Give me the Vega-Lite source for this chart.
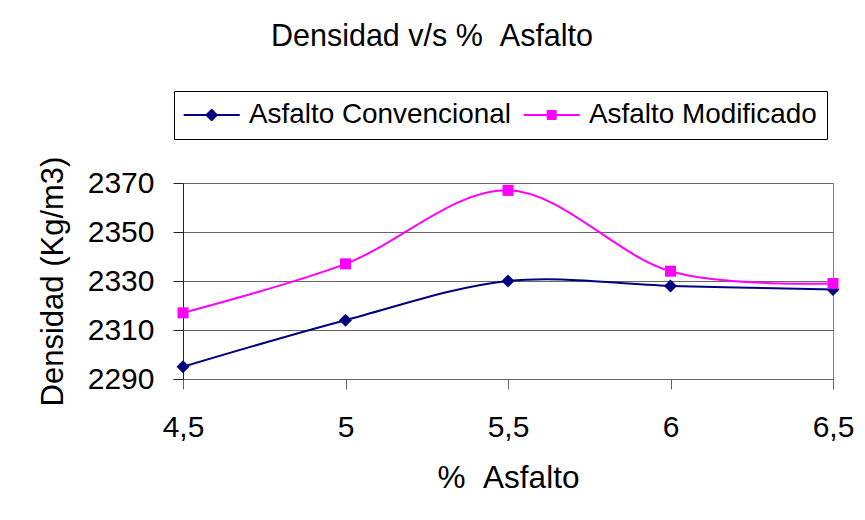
{
  "$schema": "https://vega.github.io/schema/vega-lite/v6.json",
  "width": 650,
  "height": 196,
  "autosize": {"type": "none"},
  "padding": {"left": 183, "top": 183, "right": 32, "bottom": 141},
  "background": "white",
  "title": {
    "text": "Densidad v/s % \u00a0Asfalto",
    "font": "Liberation Sans",
    "fontSize": 30.5,
    "fontWeight": "normal",
    "color": "black",
    "anchor": "middle",
    "frame": "group",
    "dx": -76,
    "offset": 38
  },
  "data": {
    "values": [
      {"asfalto": 4.5, "densidad": 2295, "serie": "Asfalto Convencional"},
      {"asfalto": 5.0, "densidad": 2314, "serie": "Asfalto Convencional"},
      {"asfalto": 5.5, "densidad": 2330, "serie": "Asfalto Convencional"},
      {"asfalto": 6.0, "densidad": 2328, "serie": "Asfalto Convencional"},
      {"asfalto": 6.5, "densidad": 2326.5, "serie": "Asfalto Convencional"},
      {"asfalto": 4.5, "densidad": 2317, "serie": "Asfalto Modificado"},
      {"asfalto": 5.0, "densidad": 2337, "serie": "Asfalto Modificado"},
      {"asfalto": 5.5, "densidad": 2367, "serie": "Asfalto Modificado"},
      {"asfalto": 6.0, "densidad": 2334, "serie": "Asfalto Modificado"},
      {"asfalto": 6.5, "densidad": 2329, "serie": "Asfalto Modificado"}
    ]
  },
  "encoding": {
    "x": {
      "field": "asfalto",
      "type": "quantitative",
      "scale": {"domain": [4.5, 6.5], "nice": false, "zero": false},
      "axis": {
        "values": [4.5, 5, 5.5, 6, 6.5],
        "labelExpr": "replace(toString(datum.value), '.', ',')",
        "grid": false,
        "tickSize": 10,
        "labelPadding": 23,
        "labelFlush": false,
        "labelOverlap": false,
        "domainColor": "#666666",
        "tickColor": "#666666",
        "title": "% \u00a0Asfalto",
        "titleFontSize": 31.5,
        "titlePadding": 20
      }
    },
    "y": {
      "field": "densidad",
      "type": "quantitative",
      "scale": {"domain": [2290, 2370], "nice": false, "zero": false},
      "axis": {
        "values": [2290, 2310, 2330, 2350, 2370],
        "format": "d",
        "grid": true,
        "gridColor": "#666666",
        "gridOpacity": 1,
        "tickSize": 10,
        "labelPadding": 19,
        "labelFlush": false,
        "labelOverlap": false,
        "domainColor": "#222222",
        "tickColor": "#222222",
        "title": "Densidad (Kg/m3)",
        "titleFontSize": 31,
        "titlePadding": 18
      }
    },
    "color": {
      "field": "serie",
      "type": "nominal",
      "scale": {
        "domain": ["Asfalto Convencional", "Asfalto Modificado"],
        "range": ["#000080", "#FF00FF"]
      },
      "legend": {
        "orient": "none",
        "legendX": -9,
        "legendY": -92,
        "direction": "horizontal",
        "title": null,
        "symbolSize": 400,
        "labelOffset": 37,
        "columnPadding": 10,
        "padding": 10,
        "strokeColor": "black",
        "fillColor": "white",
        "labelLimit": 400,
        "labelFontSize": 27.9,
        "encode": {
          "symbols": {
            "update": {
              "shape": {"signal": "datum.value === 'Asfalto Convencional' ? 'M-1.4,-0.05H4.15V0.05H-1.4ZM1.37,-0.6L1.97,0L1.37,0.6L0.77,0Z' : 'M-1.4,-0.05H4.15V0.05H-1.4ZM0.92,-0.45H1.82V0.45H0.92Z'"},
              "fill": {"scale": "color", "field": "value"},
              "stroke": {"scale": "color", "field": "value"},
              "fillOpacity": {"value": 1},
              "strokeOpacity": {"value": 1},
              "strokeWidth": {"value": 1},
              "opacity": {"value": 1},
              "size": {"value": 400}
            }
          }
        }
      }
    }
  },
  "layer": [
    {
      "mark": {"type": "line", "interpolate": "cardinal", "strokeWidth": 2}
    },
    {
      "transform": [{"filter": "datum.serie === 'Asfalto Convencional'"}],
      "mark": {"type": "point", "shape": "diamond", "size": 169, "filled": true, "opacity": 1}
    },
    {
      "transform": [{"filter": "datum.serie === 'Asfalto Modificado'"}],
      "mark": {"type": "point", "shape": "square", "size": 121, "filled": true, "opacity": 1}
    }
  ],
  "config": {
    "font": "Liberation Sans",
    "view": {"stroke": "#808080", "strokeWidth": 1},
    "axis": {
      "labelFont": "Liberation Sans",
      "labelFontSize": 30,
      "labelColor": "black",
      "titleFont": "Liberation Sans",
      "titleFontSize": 30,
      "titleFontWeight": "normal",
      "titleColor": "black",
      "domainWidth": 1,
      "tickWidth": 1
    },
    "legend": {
      "labelFont": "Liberation Sans",
      "labelColor": "black"
    }
  }
}
